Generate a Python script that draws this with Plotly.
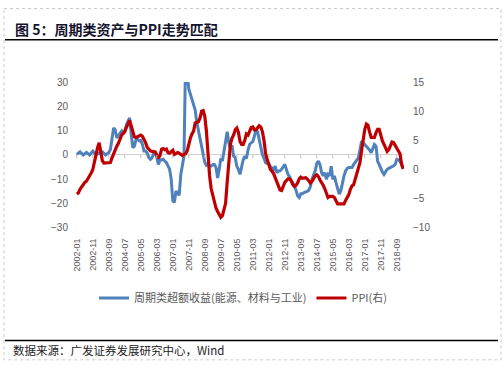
import plotly.graph_objects as go

# ---------------- data ----------------
start_year, start_month = 2002, 1
n_months = 205  # 2002-01 ... 2019-01
categories = []
y, mth = start_year, start_month
for _ in range(n_months):
    categories.append(f"{y}-{mth:02d}")
    mth += 1
    if mth > 12:
        mth = 1
        y += 1

excess_return = [
    0.2, 0.8, 1.3, 0.6, 0.0, 0.5, 1.0, 0.5, 0.0, 0.8, 1.6, 0.8,            # 2002
    0.0, 0.4, 0.8, 1.0, 1.3, 0.6, 0.0, 0.5, 1.0, 2.2, 6.0, 11.1,           # 2003
    10.4, 7.0, 8.0, 9.1, 9.8, 8.5, 10.0, 12.4, 14.0, 15.2, 8.5, 3.0,       # 2004
    3.6, 6.3, 6.5, 5.8, 6.0, 4.3, 1.6, 1.6, 0.8, -1.0, -1.8, -1.2,         # 2005
    0.5, 1.2, -1.0, -3.9, -2.2, -2.0, -1.8, -2.5, -3.2, -4.5, -5.9, -10.0, # 2006
    -18.9, -19.5, -14.8, -16.0, -16.5, -8.0, -3.2, -0.5, 40.0, 33.0, 27.0, 25.0,  # 2007
    22.5, 20.5, 18.5, 13.4, 10.0, 7.3, 4.0, 0.0, -3.0, -4.3, -3.9, -4.4,   # 2008
    -4.6, -4.0, -3.9, -5.2, -9.5, -6.0, -1.5, -2.5, 1.5, 5.0, 9.5, 5.0,    # 2009
    2.5, 4.0, -0.5, -1.0, -4.6, -6.0, -8.0, -5.0, -2.0, -0.5, -1.5, 2.0,   # 2010
    4.3, 5.0, 5.5, 7.7, 10.5, 9.5, 6.0, 3.0, 0.2, -1.5, -3.2, -3.5,        # 2011
    -3.5, -4.8, -5.2, -5.9, -4.6, -7.3, -6.6, -6.5, -5.9, -4.6, -3.9, -6.0,  # 2012
    -8.0, -9.0, -10.7, -11.5, -12.7, -14.5, -16.8, -17.5, -16.0, -16.0, -15.5, -15.4,  # 2013
    -15.0, -14.5, -13.0, -10.0, -8.0, -6.5, -3.5, -2.5, -4.0, -7.3, -8.6, -7.3,  # 2014
    -10.0, -8.0, -8.6, -4.6, -10.0, -8.6, -11.4, -13.4, -16.1, -14.8, -11.5, -8.6,  # 2015
    -6.6, -5.5, -5.2, -5.2, -5.2, -4.0, -3.2, -2.0, -1.2, 2.2, 5.6, 5.0,   # 2016
    4.3, 3.5, 3.0, 2.0, 0.9, 2.5, 4.3, 3.6, -2.5, -4.0, -5.9, -7.0,        # 2017
    -8.0, -7.0, -5.9, -5.5, -5.2, -4.8, -4.5, -3.9, -1.8, -2.0, -2.5, -4.0,  # 2018
    -5.2,                                                                   # 2019
]

ppi = [
    -4.2, -4.0, -3.4, -3.0, -2.5, -2.2, -2.0, -1.6, -1.1, -0.6, 0.0, 1.0,  # 2002
    2.5, 3.8, 4.6, 3.0, 1.5, 1.1, 1.1, 1.1, 1.1, 1.2, 2.0, 2.8,            # 2003
    3.4, 4.0, 4.5, 5.2, 5.9, 6.2, 6.5, 7.2, 7.9, 8.4, 7.5, 6.4,            # 2004
    5.6, 5.5, 5.6, 5.8, 5.9, 5.7, 5.2, 4.6, 3.8, 3.4, 3.2, 3.1,            # 2005
    3.1, 3.0, 2.5, 1.9, 2.4, 3.5, 3.6, 3.4, 3.5, 2.9, 2.8, 3.1,            # 2006
    3.3, 2.6, 2.7, 2.9, 2.8, 2.5, 2.4, 2.6, 2.7, 3.2, 4.6, 5.4,            # 2007
    6.1, 6.6, 8.0, 8.1, 8.2, 8.8, 10.0, 10.1, 9.1, 6.6, 2.0, -1.1,         # 2008
    -3.3, -4.5, -6.0, -6.6, -7.2, -7.8, -8.2, -7.9, -7.0, -5.8, -2.1, 1.7, # 2009
    4.3, 5.4, 5.9, 6.8, 7.1, 6.4, 4.8, 4.3, 4.3, 5.0, 6.1, 5.9,            # 2010
    6.6, 7.2, 7.3, 6.8, 6.8, 7.1, 7.5, 7.3, 6.5, 5.0, 2.7, 1.7,            # 2011
    0.7, 0.0, -0.3, -0.7, -1.4, -2.1, -2.9, -3.5, -3.6, -2.8, -2.2, -1.9,  # 2012
    -1.6, -1.6, -1.9, -2.6, -2.9, -2.7, -2.3, -1.6, -1.3, -1.5, -1.4, -1.4,  # 2013
    -1.6, -2.0, -2.3, -2.0, -1.4, -1.1, -0.9, -1.2, -1.8, -2.2, -2.7, -3.3,  # 2014
    -4.3, -4.8, -4.6, -4.6, -4.6, -4.8, -5.4, -5.9, -5.9, -5.9, -5.9, -5.9,  # 2015
    -5.3, -4.9, -4.3, -3.4, -2.8, -2.6, -1.7, -0.8, 0.1, 1.2, 3.3, 5.5,    # 2016
    6.9, 7.8, 7.6, 6.4, 5.5, 5.5, 5.5, 6.3, 6.9, 6.9, 5.8, 4.9,            # 2017
    4.3, 3.7, 3.1, 3.4, 4.1, 4.7, 4.6, 4.1, 3.6, 3.3, 2.7, 0.9,            # 2018
    0.1,                                                                    # 2019
]

tick_labels = categories[::10]
left_ticks = [-30, -20, -10, 0, 10, 20, 30]
right_ticks = [-10, -5, 0, 5, 10, 15]

title_text = "图 5：周期类资产与PPI走势匹配"
source_text = "数据来源：广发证券发展研究中心，Wind"
name_excess = "周期类超额收益(能源、材料与工业)"
name_ppi = "PPI(右)"

# ---------------- layout geometry ----------------
W, H = 504, 371
L, R, T, B = 76, 404, 82, 229


def px(x):
    return (x - L) / (R - L)


def py(yv):
    return (B - yv) / (B - T)


CJK = "Noto Sans CJK SC, Noto Sans, sans-serif"
NUM = "Liberation Sans, Arial, sans-serif"
GRAY = "#595959"

fig = go.Figure()
fig.add_trace(go.Scatter(
    x=categories, y=excess_return, name=name_excess, mode="lines",
    line=dict(color="#4F81BD", width=3), yaxis="y"))
fig.add_trace(go.Scatter(
    x=categories, y=ppi, name=name_ppi, mode="lines",
    line=dict(color="#C00000", width=3.2), yaxis="y2"))

shapes = []
# tick marks on the zero line
for lab in tick_labels:
    shapes.append(dict(type="line", xref="x", yref="y", x0=lab, x1=lab,
                       y0=0, y1=-1.4, line=dict(color="#BFBFBF", width=1)))
# dashed outer border
shapes.append(dict(type="rect", xref="paper", yref="paper",
                   x0=px(4), x1=px(501), y0=py(8), y1=py(362),
                   line=dict(color="#C8C8C8", width=1, dash="dot")))
# title rule and footer rule
shapes.append(dict(type="line", xref="paper", yref="paper",
                   x0=px(5), x1=px(498), y0=py(39.5), y1=py(39.5),
                   line=dict(color="#000000", width=1.5)))
shapes.append(dict(type="line", xref="paper", yref="paper",
                   x0=px(5), x1=px(498), y0=py(342.5), y1=py(342.5),
                   line=dict(color="#000000", width=1.5)))

annotations = [
    dict(text=f"<b>{title_text}</b>", xref="paper", yref="paper",
         x=px(13), y=py(28.5), xanchor="left", yanchor="middle",
         showarrow=False, font=dict(family=CJK, size=14, color="#14142e")),
    dict(text=source_text, xref="paper", yref="paper",
         x=px(11), y=py(352.5), xanchor="left", yanchor="middle",
         showarrow=False, font=dict(family=CJK, size=11.5, color="#222222")),
]

fig.update_layout(
    width=W, height=H,
    margin=dict(l=L, r=W - R, t=T, b=H - B, pad=0),
    paper_bgcolor="white", plot_bgcolor="white",
    showlegend=True,
    legend=dict(orientation="h", xref="container", yref="container",
                x=94 / W, y=1 - 298 / H, xanchor="left", yanchor="middle",
                font=dict(family=CJK, size=11, color=GRAY),
                itemwidth=30, tracegroupgap=0, bgcolor="rgba(0,0,0,0)"),
    xaxis=dict(type="category", range=[-0.5, n_months - 0.5],
               tickmode="array", tickvals=tick_labels, ticktext=tick_labels,
               tickangle=-90, showgrid=False, zeroline=False, showline=False,
               ticks="outside", ticklen=6, tickcolor="rgba(0,0,0,0)",
               tickfont=dict(family=NUM, size=9, color=GRAY)),
    yaxis=dict(range=[-30, 30], tickmode="array", tickvals=left_ticks,
               showgrid=False, zeroline=True, zerolinecolor="#D0D0D0",
               zerolinewidth=1, showline=False,
               ticks="outside", ticklen=5, tickcolor="rgba(0,0,0,0)",
               tickfont=dict(family=NUM, size=10, color=GRAY)),
    yaxis2=dict(range=[-10, 15], tickmode="array", tickvals=right_ticks,
                overlaying="y", side="right", showgrid=False, zeroline=False,
                showline=False, ticks="outside", ticklen=6,
                tickcolor="rgba(0,0,0,0)",
                tickfont=dict(family=NUM, size=10, color=GRAY)),
    shapes=shapes, annotations=annotations,
)

fig.write_html(
    "out.html",
    config={"displayModeBar": False},
    post_script="document.body.style.margin='0';document.body.style.overflow='hidden';",
)
